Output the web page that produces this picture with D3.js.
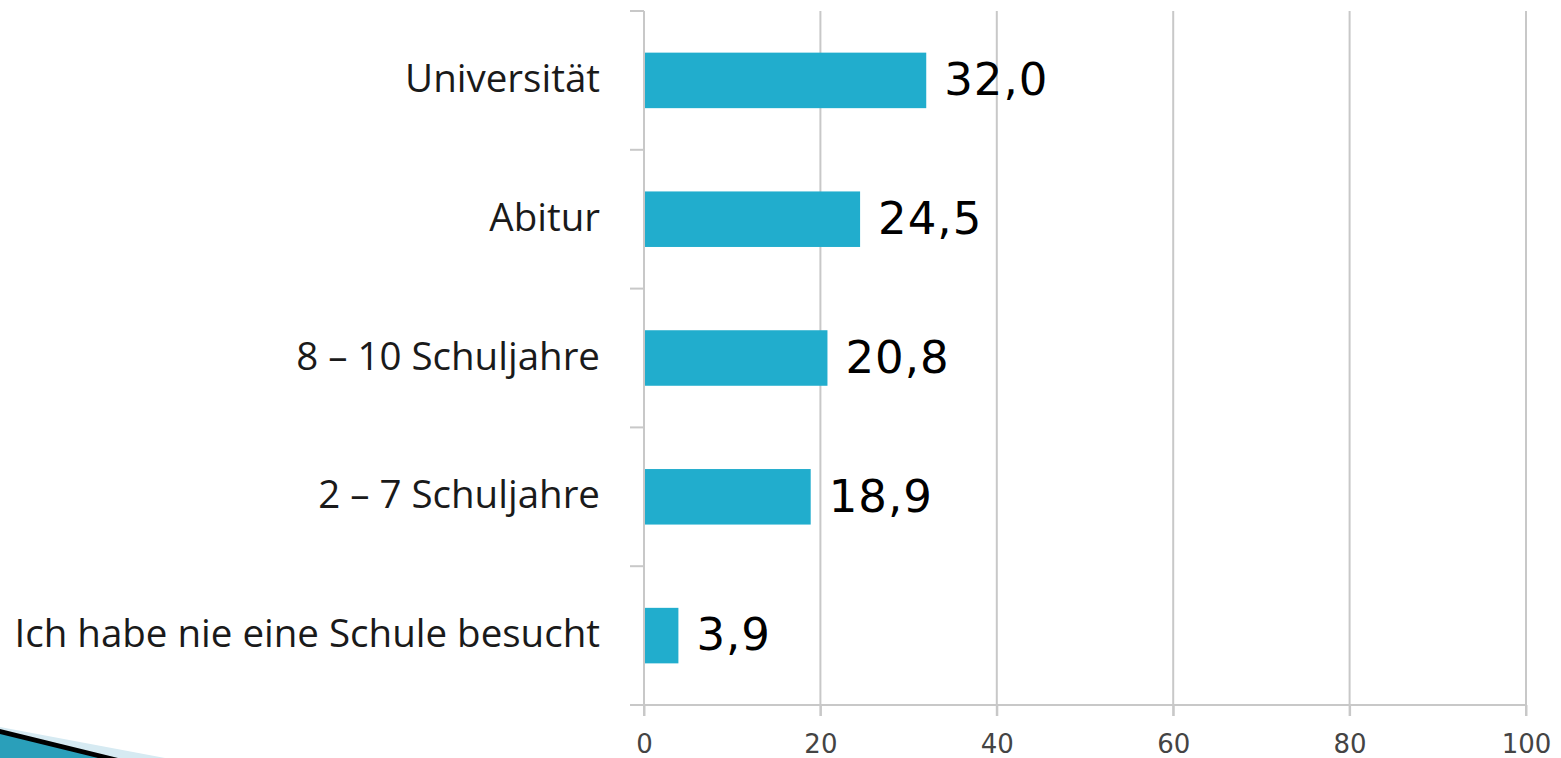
<!DOCTYPE html>
<html>
<head>
<meta charset="utf-8">
<script src="https://cdn.jsdelivr.net/npm/d3@7"></script>
<style>
  body { margin: 0; background: #fff; }
  svg { display: block; }
</style>
</head>
<body>
<div id="chart"></div>
<script>
// categories top to bottom, values in percent
const categories = ["Universität", "Abitur", "8 – 10 Schuljahre", "2 – 7 Schuljahre", "Ich habe nie eine Schule besucht"];
const values = [32.0, 24.5, 20.8, 18.9, 3.9];
const valueLabels = ["32,0", "24,5", "20,8", "18,9", "3,9"];
const xTicks = [0, 20, 40, 60, 80, 100];

const W = 1561, H = 758;
const plotLeft = 644, plotRight = 1526, plotTop = 11, plotBottom = 705;

const svg = d3.select("#chart").append("svg")
    .attr("width", W)
    .attr("height", H);

const x = d3.scaleLinear().domain([0, 100]).range([plotLeft, plotRight]);
const y = d3.scaleBand().domain(categories).range([plotTop, plotBottom]).paddingInner(0.6).paddingOuter(0.3);

// vertical grid lines
svg.append("g")
    .selectAll("line")
    .data(xTicks.slice(1))
    .enter()
    .append("line")
    .attr("x1", d => x(d)).attr("x2", d => x(d))
    .attr("y1", plotTop).attr("y2", plotBottom + 11)
    .attr("stroke", "#c8c8c8")
    .attr("stroke-width", 2);

// bottom axis
const xAxis = d3.axisBottom(x).tickValues(xTicks).tickSize(11).tickPadding(19);
const gx = svg.append("g")
    .attr("transform", "translate(0," + plotBottom + ")")
    .call(xAxis);
gx.select(".domain").remove();
gx.selectAll("line").attr("stroke", "#c8c8c8").attr("stroke-width", 2);
gx.selectAll("text")
    .attr("fill", "#444")
    .attr("font-family", "DejaVu Sans, sans-serif")
    .attr("font-size", "26px");
gx.append("line")
    .attr("x1", 630).attr("x2", plotRight)
    .attr("stroke", "#c8c8c8").attr("stroke-width", 2);

// left axis with ticks between bands
const bandEdges = d3.range(categories.length + 1).map(i => plotTop + i * (plotBottom - plotTop) / categories.length);
svg.append("line")
    .attr("x1", plotLeft).attr("x2", plotLeft)
    .attr("y1", plotTop).attr("y2", plotBottom + 11)
    .attr("stroke", "#c8c8c8").attr("stroke-width", 2);
svg.append("g")
    .selectAll("line")
    .data(bandEdges)
    .enter()
    .append("line")
    .attr("x1", 630).attr("x2", plotLeft)
    .attr("y1", d => d).attr("y2", d => d)
    .attr("stroke", "#c8c8c8").attr("stroke-width", 2);

// bars
svg.selectAll("rect.bar")
    .data(categories)
    .enter()
    .append("rect")
    .attr("class", "bar")
    .attr("x", x(0) + 1)
    .attr("y", d => y(d))
    .attr("width", (d, i) => x(values[i]) - x(0) - 1)
    .attr("height", y.bandwidth())
    .attr("fill", "#21adcd");

// category labels
svg.selectAll("text.cat")
    .data(categories)
    .enter()
    .append("text")
    .attr("class", "cat")
    .attr("x", 600)
    .attr("y", d => y(d) + y.bandwidth() / 2)
    .attr("dy", "0.3em")
    .attr("text-anchor", "end")
    .attr("font-family", "Open Sans, sans-serif")
    .attr("font-size", "38.5px")
    .attr("fill", "#1a1a1a")
    .text(d => d);

// value labels
svg.selectAll("text.val")
    .data(categories)
    .enter()
    .append("text")
    .attr("class", "val")
    .attr("x", (d, i) => x(values[i]) + 18)
    .attr("y", d => y(d) + y.bandwidth() / 2)
    .attr("dy", "0.33em")
    .attr("font-family", "DejaVu Sans, sans-serif")
    .attr("font-size", "45px")
    .attr("letter-spacing", "1px")
    .attr("fill", "#000")
    .text((d, i) => valueLabels[i]);

// slide bullet decoration bottom-left
svg.append("path")
    .attr("d", "M0,727 L165,758 L0,758 Z")
    .attr("fill", "#d6eaf2");
svg.append("path")
    .attr("d", "M0,729 L118,758 L0,758 Z")
    .attr("fill", "#000");
svg.append("path")
    .attr("d", "M0,734 L98,758 L0,758 Z")
    .attr("fill", "#2a9fba");
</script>
</body>
</html>
